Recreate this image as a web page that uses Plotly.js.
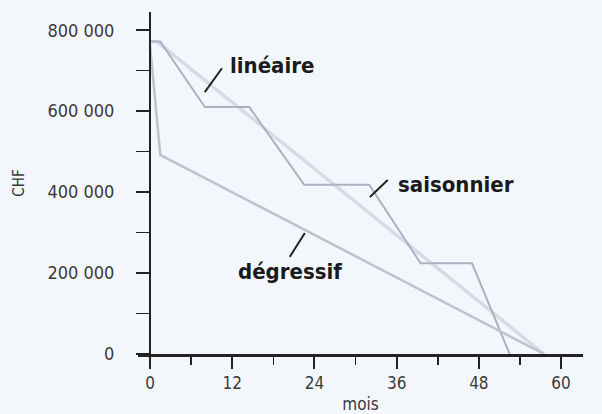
<!DOCTYPE html>
<html>
<head>
<meta charset="utf-8">
<script src="https://cdn.plot.ly/plotly-3.0.1.min.js"></script>
<style>html,body{margin:0;padding:0;background:#f3f7fb;}#chart{width:602px;height:414px;}</style>
</head>
<body>
<div id="chart"></div>
<script>
// Data
const linMonths = [0, 1, 57.5];
const linValues = [772000, 772000, 0];
const saisMonths = [0, 1.5, 8, 14.5, 22.5, 32, 39.5, 47, 52.5];
const saisValues = [772000, 772000, 610000, 610000, 418000, 418000, 224000, 224000, 0];
const degMonths = [0, 1.5, 57.5];
const degValues = [765000, 492000, 0];
const xTickVals = [0, 12, 24, 36, 48, 60];
const xTickText = ['0', '12', '24', '36', '48', '60'];
const yTickVals = [0, 200000, 400000, 600000, 800000];
const yTickText = ['0', '200 000', '400 000', '600 000', '800 000'];
const seriesNames = ['linéaire', 'saisonnier', 'dégressif'];

const traces = [
  {x: linMonths, y: linValues, mode: 'lines', name: seriesNames[0],
   line: {color: '#d4dce7', width: 3.5}, hoverinfo: 'skip'},
  {x: saisMonths, y: saisValues, mode: 'lines', name: seriesNames[1],
   line: {color: '#a9b2c4', width: 2}, hoverinfo: 'skip'},
  {x: degMonths, y: degValues, mode: 'lines', name: seriesNames[2],
   line: {color: '#bac4d1', width: 2.5}, hoverinfo: 'skip'}
];

const fam = '"DejaVu Sans Condensed", "DejaVu Sans", sans-serif';
const labelFont = {family: fam, size: 22, color: '#1a1a1a', weight: 'bold'};

const layout = {
  width: 602, height: 414,
  margin: {l: 138, r: 19, t: 12, b: 60},
  paper_bgcolor: '#f3f7fb', plot_bgcolor: '#f3f7fb',
  showlegend: false,
  font: {family: fam, color: '#3a3a3a'},
  xaxis: {
    range: [-1.75, 63.2], showgrid: false, zeroline: false,
    showline: true, linecolor: '#222', linewidth: 2.5,
    tickmode: 'array', tickvals: xTickVals, ticktext: xTickText,
    ticks: 'outside', ticklen: 12, tickwidth: 2, tickcolor: '#222',
    tickfont: {size: 17, color: '#3a3a3a', family: fam},
    minor: {dtick: 6, tick0: 0, ticks: 'outside', ticklen: 8, tickwidth: 1.5, tickcolor: '#222'},
    title: {text: 'mois', font: {size: 17, color: '#3a3a3a', family: fam}, standoff: 7}
  },
  yaxis: {
    range: [0, 845000], showgrid: false, zeroline: false,
    anchor: 'free', position: 1.75 / 64.95,
    showline: true, linecolor: '#222', linewidth: 2,
    tickmode: 'array', tickvals: yTickVals, ticktext: yTickText,
    ticks: 'outside', ticklen: 13, tickwidth: 2, tickcolor: '#222',
    ticklabelstandoff: 18,
    tickfont: {size: 18, color: '#3a3a3a', family: fam},
    minor: {dtick: 100000, tick0: 0, ticks: 'outside', ticklen: 13, tickwidth: 1.5, tickcolor: '#222'},
    title: {text: 'CHF', font: {size: 15, color: '#3a3a3a', family: fam}, standoff: 18}
  },
  shapes: [
    {type: 'line', xref: 'x', yref: 'y', x0: 8.0, y0: 647000, x1: 10.5, y1: 706000, line: {color: '#222', width: 2}},
    {type: 'line', xref: 'x', yref: 'y', x0: 32.1, y0: 388000, x1: 34.7, y1: 430000, line: {color: '#222', width: 2}},
    {type: 'line', xref: 'x', yref: 'y', x0: 20.4, y0: 240000, x1: 22.6, y1: 299000, line: {color: '#222', width: 2}}
  ],
  annotations: [
    {x: 17.8, y: 712000, xref: 'x', yref: 'y', text: seriesNames[0], showarrow: false, font: labelFont},
    {x: 44.7, y: 420000, xref: 'x', yref: 'y', text: seriesNames[1], showarrow: false, font: labelFont},
    {x: 20.4, y: 203000, xref: 'x', yref: 'y', text: seriesNames[2], showarrow: false, font: labelFont}
  ]
};

Plotly.newPlot('chart', traces, layout, {displayModeBar: false, staticPlot: true});
</script>
</body>
</html>
